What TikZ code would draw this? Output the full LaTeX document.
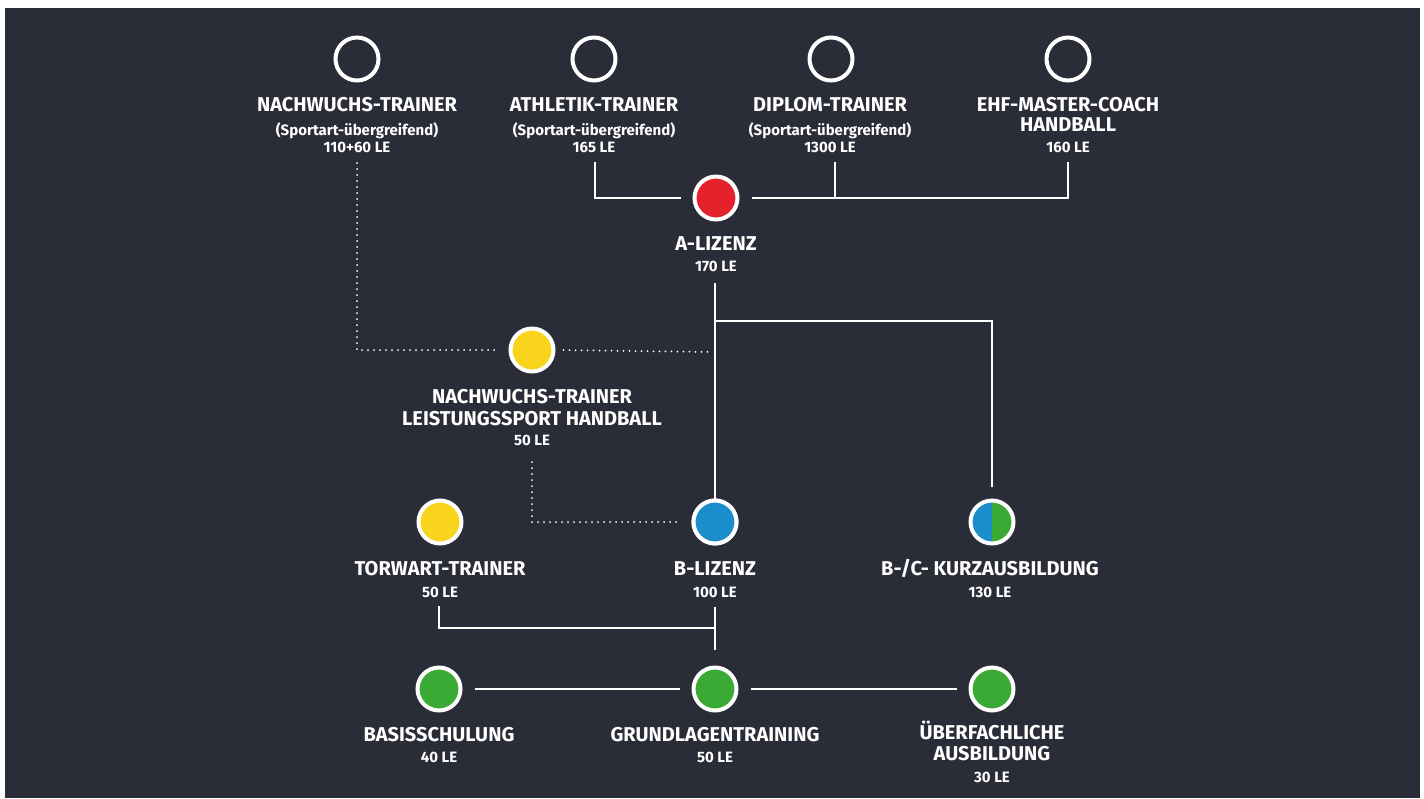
\documentclass[tikz,border=0pt]{standalone}
\usepackage{fontspec}
\setmainfont{Fira Sans}
\definecolor{bgc}{HTML}{2A2C37}
\definecolor{cred}{HTML}{E3222B}
\definecolor{cyel}{HTML}{F8D51C}
\definecolor{cblue}{HTML}{1C8DCB}
\definecolor{cgreen}{HTML}{3BAA35}
\begin{document}
\begin{tikzpicture}[x=1pt,y=-1pt,
  ring/.style={circle, draw=white, line width=4pt, minimum size=43pt, inner sep=0pt},
  big/.style={text=white, anchor=base, inner sep=0pt, font=\bfseries\fontsize{20}{20}\selectfont},
  small/.style={text=white, anchor=base, inner sep=0pt, font=\bfseries\fontsize{15}{15}\selectfont},
  conn/.style={draw=white, line width=2.5pt},
  dots/.style={draw=white, line width=2pt, dash pattern=on 0pt off 6pt, line cap=round}]
\useasboundingbox (0,0) rectangle (1424,798);
\fill[white] (0,0) rectangle (1424,798);
\fill[bgc] (5,8) rectangle (1420,798);

% top circles
\node[ring] (nwT) at (357,59) {};
\node[ring] (ath) at (594,59) {};
\node[ring] (dip) at (831,59) {};
\node[ring] (ehf) at (1068,59) {};
\node[big] (nwT1) at (357,111) {NACHWUCHS-TRAINER};
\node[small] (nwT2) at (357,135) {(Sportart-übergreifend)};
\node[small] (nwT3) at (357,152) {110+60 LE};
\node[big] (ath1) at (594,111) {ATHLETIK-TRAINER};
\node[small] (ath2) at (594,135) {(Sportart-übergreifend)};
\node[small] (ath3) at (594,152) {165 LE};
\node[big] (dip1) at (830,111) {DIPLOM-TRAINER};
\node[small] (dip2) at (830,135) {(Sportart-übergreifend)};
\node[small] (dip3) at (830,152) {1300 LE};
\node[big] (ehf1) at (1068,111) {EHF-MASTER-COACH};
\node[big] (ehf2) at (1068,131) {HANDBALL};
\node[small] (ehf3) at (1068,152) {160 LE};

% A-Lizenz
\node[ring, fill=cred] (aL) at (716,198) {};
\node[big] (aL1) at (716,250) {A-LIZENZ};
\node[small] (aL2) at (716,271) {170 LE};

% middle
\node[ring, fill=cyel] (nwL) at (532,350) {};
\node[big] (nwL1) at (532,403) {NACHWUCHS-TRAINER};
\node[big] (nwL2) at (532,425) {LEISTUNGSSPORT HANDBALL};
\node[small] (nwL3) at (532,445) {50 LE};

% row 3
\node[ring, fill=cyel] (tw) at (440,522) {};
\node[big] (tw1) at (440,575) {TORWART-TRAINER};
\node[small] (tw2) at (440,597) {50 LE};
\node[ring, fill=cblue] (bL) at (715,522) {};
\node[big] (bL1) at (715,575) {B-LIZENZ};
\node[small] (bL2) at (715,597) {100 LE};
\node[ring, path picture={
  \fill[cblue] (path picture bounding box.south west) rectangle (path picture bounding box.north);
  \fill[cgreen] (path picture bounding box.south) rectangle (path picture bounding box.north east);}] (kurz) at (992,522) {};
\node[big] (kurz1) at (990,575) {B-/C- KURZAUSBILDUNG};
\node[small] (kurz2) at (990,597) {130 LE};

% bottom row
\node[ring, fill=cgreen] (bas) at (439,689) {};
\node[big] (bas1) at (439,741) {BASISSCHULUNG};
\node[small] (bas2) at (439,762) {40 LE};
\node[ring, fill=cgreen] (gru) at (715,689) {};
\node[big] (gru1) at (715,741) {GRUNDLAGENTRAINING};
\node[small] (gru2) at (715,762) {50 LE};
\node[ring, fill=cgreen] (ueb) at (992,689) {};
\node[big] (ueb1) at (992,739) {ÜBERFACHLICHE};
\node[big] (ueb2) at (992,760) {AUSBILDUNG};
\node[small] (ueb3) at (992,782) {30 LE};

% connector ends
\coordinate (athE) at (595,162);
\coordinate (dipE) at (835,162);
\coordinate (ehfE) at (1068,162);
\coordinate (aE) at (715,283);
\coordinate (brA) at (715,321);
\coordinate (nwTE) at (357,163);
\coordinate (aLine) at (712,352);
\coordinate (nwLE) at (532,462);
\coordinate (twE) at (439,606);
\coordinate (twJ) at (715,628);
\coordinate (bE) at (715,607);

% solid connectors
\draw[conn, shorten >=12pt] (athE) |- (aL.west);
\draw[conn, shorten <=12pt] (aL.east) -- (ehfE |- aL.east) -- (ehfE);
\draw[conn] (dipE) -- (dipE |- aL.east);
\draw[conn] (aE) -- (bL.north);
\draw[conn, shorten >=12pt] (brA) -| (kurz.north);
\draw[conn] (twE) |- (twJ);
\draw[conn, shorten >=16pt] (bE) -- (gru.north);
\draw[conn, shorten <=12pt, shorten >=12pt] (bas.east) -- (gru.west);
\draw[conn, shorten <=12pt, shorten >=12pt] (gru.east) -- (ueb.west);

% dotted connectors
\draw[dots, shorten >=10pt] (nwTE) |- (nwL.west);
\draw[dots, shorten <=8pt] (nwL.east) -- (aLine);
\draw[dots, shorten >=10pt] (nwLE) |- (bL.west);

% circle drawn again over the line end
\node[ring, fill=cblue] at (bL) {};
\end{tikzpicture}
\end{document}
